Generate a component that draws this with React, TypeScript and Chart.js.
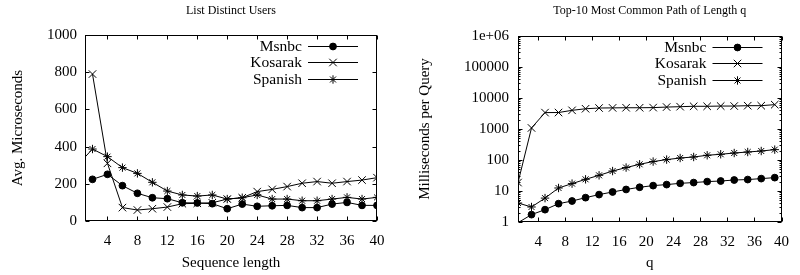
import React, { useEffect, useRef } from 'react';
import { Chart, registerables } from 'chart.js';
import { drawPoint } from 'chart.js/helpers';
Chart.register(...registerables);

// ---------- data ----------
const seriesNames = ['Msnbc', 'Kosarak', 'Spanish'];

const leftTitle = 'List Distinct Users';
const leftXTitle = 'Sequence length';
const leftYTitle = 'Avg. Microseconds';
const leftX = [2, 4, 6, 8, 10, 12, 14, 16, 18, 20, 22, 24, 26, 28, 30, 32, 34, 36, 38, 40];
const leftMsnbc = [224, 251, 190, 149, 125, 120, 98, 97, 93, 66, 91, 79, 82, 84, 72, 72, 91, 100, 84, 84];
const leftKosarak = [790, 310, 72, 59, 66, 75, 93, 95, 98, 118, 125, 158, 170, 185, 203, 212, 203, 212, 220, 233];
const leftSpanishX = [0, 2, 4, 6, 8, 10, 12, 14, 16, 18, 20, 22, 24, 26, 28, 30, 32, 34, 36, 38, 40];
const leftSpanish = [300, 387, 346, 287, 256, 208, 161, 140, 134, 140, 118, 125, 140, 118, 118, 109, 109, 118, 127, 118, 127];
const leftYTicks = [0, 200, 400, 600, 800, 1000];

const rightTitle = 'Top-10 Most Common Path of Length q';
const rightXTitle = 'q';
const rightYTitle = 'Milliseconds per Query';
const rightX = [1, 3, 5, 7, 9, 11, 13, 15, 17, 19, 21, 23, 25, 27, 29, 31, 33, 35, 37, 39];
const rightMsnbc = [0.95, 1.73, 2.5, 3.9, 4.75, 6.1, 7.65, 9.3, 11.2, 13.2, 14.9, 16.1, 17.7, 18.7, 20.1, 21, 22.6, 23.4, 25.1, 27];
const rightKosarak = [18.7, 1080, 3380, 3400, 4000, 4500, 4750, 4800, 4850, 4850, 4900, 5100, 5250, 5400, 5400, 5500, 5500, 5650, 5650, 6100];
const rightSpanish = [4.1, 3.05, 5.9, 12.5, 17.3, 23.8, 32, 44, 57, 72.6, 89, 103, 116, 125, 142, 153, 168, 181, 195, 216];
const rightYTicks = [1, 10, 100, 1000, 10000, 100000, 1000000];
const rightYTickLabels = ['1', '10', '100', '1000', '10000', '100000', '1e+06'];
const minorLogSteps = [2, 3, 4, 5, 6, 7, 8, 9];

const xTicks = [4, 8, 12, 16, 20, 24, 28, 32, 36, 40];

// ---------- styles ----------
const FONT = '"Liberation Serif", "Times New Roman", serif';
const pointStyles = ['circle', 'crossRot', 'star'];
const markerRadius = [3.4, 5.3, 4.2];

const toPts = (xs: number[], ys: number[]) => xs.map((x, i) => ({ x, y: ys[i] }));

function makeDatasets(series: { x: number[]; y: number[] }[], yMin: number) {
  return series.map((s, i) => ({
    label: seriesNames[i],
    data: toPts(s.x, s.y),
    borderColor: '#000',
    backgroundColor: '#000',
    borderWidth: 1,
    pointStyle: pointStyles[i],
    pointRadius: (c: any) => (c.raw && c.raw.y < yMin ? 0 : markerRadius[i]),
    pointBorderWidth: 1,
    pointBackgroundColor: '#000',
    pointBorderColor: '#000',
    pointHoverRadius: markerRadius[i],
    tension: 0,
    clip: 0,
  }));
}

const gnuplotPlugin = {
  id: 'gnuplotDecor',
  afterDatasetsDraw(chart: any, _args: any, opts: any) {
    const { ctx, chartArea: a, scales } = chart;
    ctx.save();
    // frame
    ctx.strokeStyle = '#000';
    ctx.lineWidth = 1;
    const L = Math.round(a.left) + 0.5;
    const R = Math.round(a.right) - 0.5;
    const T = Math.round(a.top) + 0.5;
    const B = Math.round(a.bottom) - 0.5;
    ctx.strokeRect(L, T, R - L, B - T);
    // ticks
    ctx.beginPath();
    const xs = scales.x;
    xs.ticks.forEach((t: any) => {
      const px = Math.round(xs.getPixelForValue(t.value)) + 0.5;
      ctx.moveTo(px, B); ctx.lineTo(px, B - 4);
      ctx.moveTo(px, T); ctx.lineTo(px, T + 4);
    });
    const ys = scales.y;
    ys.ticks.forEach((t: any) => {
      const py = Math.round(ys.getPixelForValue(t.value)) + 0.5;
      ctx.moveTo(L, py); ctx.lineTo(L + 4, py);
      ctx.moveTo(R, py); ctx.lineTo(R - 4, py);
    });
    if (opts.minorLog) {
      ys.ticks.forEach((t: any) => {
        minorLogSteps.forEach((m) => {
          const v = t.value * m;
          if (v >= ys.max) return;
          const py = Math.round(ys.getPixelForValue(v)) + 0.5;
          ctx.moveTo(L, py); ctx.lineTo(L + 2, py);
          ctx.moveTo(R, py); ctx.lineTo(R - 2, py);
        });
      });
    }
    ctx.stroke();

    // legend (gnuplot style: right-aligned text, line sample on the right)
    ctx.font = '15.5px ' + FONT;
    ctx.textAlign = 'right';
    ctx.textBaseline = 'middle';
    ctx.fillStyle = '#000';
    chart.data.datasets.forEach((ds: any, i: number) => {
      const y = Math.round(a.top + 11 + i * 16.4) + 0.5;
      ctx.fillText(ds.label, a.right - 75, y);
      const x1 = a.right - 69;
      const x2 = a.right - 19;
      ctx.beginPath();
      ctx.moveTo(x1, y); ctx.lineTo(x2, y);
      ctx.stroke();
      ctx.fillStyle = '#000';
      drawPoint(ctx, { pointStyle: ds.pointStyle, radius: markerRadius[i], borderWidth: 1, rotation: 0 } as any, (x1 + x2) / 2, y);
    });

    // title centred over the plot
    ctx.font = '12px ' + FONT;
    ctx.textAlign = 'center';
    ctx.textBaseline = 'middle';
    ctx.fillText(opts.title, (a.left + a.right) / 2, 11);
    ctx.restore();
  },
};

function makeConfig(side: 'left' | 'right'): any {
  const isLeft = side === 'left';
  const series = isLeft
    ? [
        { x: leftX, y: leftMsnbc },
        { x: leftX, y: leftKosarak },
        { x: leftSpanishX, y: leftSpanish },
      ]
    : [
        { x: rightX, y: rightMsnbc },
        { x: rightX, y: rightKosarak },
        { x: rightX, y: rightSpanish },
      ];
  const yMin = isLeft ? leftYTicks[0] : rightYTicks[0];
  const yMax = isLeft ? leftYTicks[leftYTicks.length - 1] : rightYTicks[rightYTicks.length - 1];
  const tickFont = { family: FONT, size: 15 };
  const titleFont = { family: FONT, size: 15 };
  return {
    type: 'line',
    data: { datasets: makeDatasets(series, yMin) },
    options: {
      responsive: false,
      animation: false,
      events: [],
      layout: { padding: { top: isLeft ? 35 : 36, right: isLeft ? 23 : 11, left: 0, bottom: 0 } },
      plugins: {
        legend: { display: false },
        tooltip: { enabled: false },
        title: { display: false },
        gnuplotDecor: { title: isLeft ? leftTitle : rightTitle, minorLog: !isLeft },
      },
      scales: {
        x: {
          type: 'linear',
          min: 1,
          max: 40,
          afterBuildTicks: (s: any) => {
            s.ticks = xTicks.map((v) => ({ value: v }));
          },
          afterFit: (s: any) => {
            s.height = isLeft ? 54 : 53;
          },
          ticks: { font: tickFont, color: '#000', padding: 11, autoSkip: false, maxRotation: 0 },
          grid: { display: false, drawTicks: false },
          border: { display: false },
          title: {
            display: true,
            text: isLeft ? leftXTitle : rightXTitle,
            font: titleFont,
            color: '#000',
            padding: { top: 0, bottom: 3 },
          },
        },
        y: {
          type: isLeft ? 'linear' : 'logarithmic',
          min: yMin,
          max: yMax,
          afterBuildTicks: (s: any) => {
            s.ticks = (isLeft ? leftYTicks : rightYTicks).map((v) => ({ value: v }));
          },
          afterFit: (s: any) => {
            s.width = isLeft ? 85 : 118;
          },
          ticks: {
            font: tickFont,
            color: '#000',
            padding: isLeft ? 8 : 9,
            autoSkip: false,
            callback: (v: number) => {
              if (isLeft) return String(v);
              const k = rightYTicks.indexOf(v);
              return k >= 0 ? rightYTickLabels[k] : '';
            },
          },
          grid: { display: false, drawTicks: false },
          border: { display: false },
          title: {
            display: true,
            text: isLeft ? leftYTitle : rightYTitle,
            font: titleFont,
            color: '#000',
            padding: { top: isLeft ? 9 : 16, bottom: 0 },
          },
        },
      },
    },
    plugins: [gnuplotPlugin],
  };
}

function ChartBox({ side, left }: { side: 'left' | 'right'; left: number }) {
  const ref = useRef<HTMLCanvasElement | null>(null);
  useEffect(() => {
    if (!ref.current) return;
    const chart = new Chart(ref.current, makeConfig(side));
    return () => chart.destroy();
  }, [side]);
  return (
    <div style={{ position: 'absolute', left, top: 0, width: 400, height: 275 }}>
      <canvas ref={ref} width={400} height={275} style={{ display: 'block', width: 400, height: 275 }} />
    </div>
  );
}

export default function App() {
  return (
    <div style={{ position: 'fixed', left: 0, top: 0, width: 800, height: 275, background: '#fff' }}>
      <ChartBox side="left" left={0} />
      <ChartBox side="right" left={400} />
    </div>
  );
}
